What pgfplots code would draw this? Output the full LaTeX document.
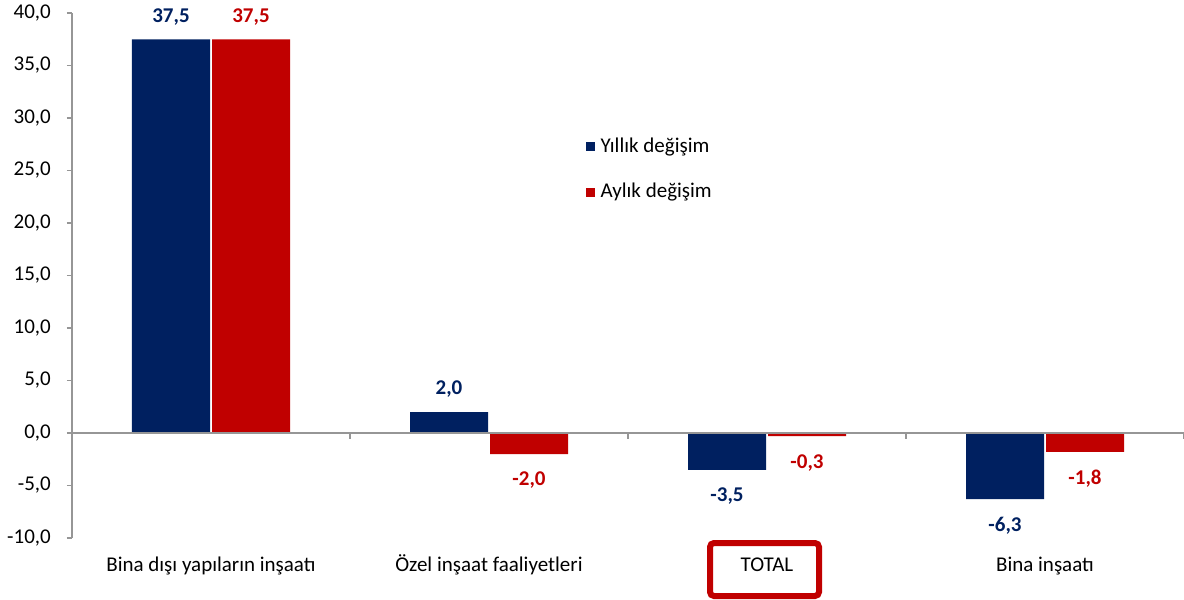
\documentclass[border=0pt]{standalone}
\usepackage{fontspec}
\setmainfont{Carlito}
\usepackage{pgfplots}
\pgfplotsset{compat=1.18}
\definecolor{yblue}{RGB}{0,32,96}
\definecolor{ared}{RGB}{192,0,0}
\definecolor{axgray}{RGB}{150,150,150}
\newcommand{\chartfont}{\fontsize{21}{25}\selectfont}

\begin{document}
\chartfont
\begin{tikzpicture}[font=\chartfont]
  \begin{axis}[
    scale only axis, width=1112pt, height=525pt,
    xmin=-0.5, xmax=3.5, ymin=-10, ymax=40,
    clip=false,
    ytick={-10,-5,...,40},
    xtick={0,1,2,3},
    xticklabels={Bina dışı yapıların inşaatı, Özel inşaat faaliyetleri, TOTAL, Bina inşaatı},
    axis y line*=left, axis x line*=bottom,
    x axis line style={draw=none},
    y axis line style={axgray, line width=1.5pt, -},
    xtick style={draw=none},
    ytick style={axgray, line width=1.2pt},
    tick align=outside, major tick length=5pt,
    tick label style={font=\chartfont},
    yticklabel style={xshift=-9pt},
    xticklabel style={yshift=-6pt, text height=15pt, text depth=5pt},
    /pgf/number format/.cd, fixed, fixed zerofill, precision=1, use comma, assume math mode=true,
    /pgfplots/.cd,
    ybar, bar width=78pt,
    nodes near coords={\pgfmathprintnumber[fixed,fixed zerofill,precision=1,use comma,assume math mode=true]{\pgfplotspointmeta}},
    nodes near coords align={vertical},
    legend style={draw=none, fill=none, at={(0.459,0.771)}, anchor=north west,
      row sep=24pt, column sep=4pt, font=\chartfont},
    legend cell align=left,
    legend image code/.code={\fill[#1] (0pt,-4.5pt) rectangle (9pt,4.5pt);},
  ]
    \addplot[fill=yblue, draw=none, bar shift=-40pt,
      every node near coord/.append style={text=yblue, font=\chartfont\bfseries, inner sep=16pt, yshift=-2pt}]
      coordinates {(0,37.5) (1,2.0) (2,-3.5) (3,-6.3)};
    \addplot[fill=ared, draw=none, bar shift=40pt,
      every node near coord/.append style={text=ared, font=\chartfont\bfseries, inner sep=16pt, yshift=-2pt}]
      coordinates {(0,37.5) (1,-2.0) (2,-0.3) (3,-1.8)};
    \legend{Yıllık değişim, Aylık değişim}
    \draw[axgray, line width=1.5pt] (axis cs:-0.5,0) -- (axis cs:3.5,0);
    \pgfplotsinvokeforeach{0.5,1.5,2.5,3.5}{
      \draw[axgray, line width=1.2pt] (axis cs:#1,0) -- ([yshift=-6pt]axis cs:#1,0);
    }
    \draw[ared, line width=6pt, rounded corners=4pt]
      ([xshift=-57pt,yshift=-5pt]axis cs:2,-10) rectangle ([xshift=52pt,yshift=-58pt]axis cs:2,-10);
  \end{axis}
  \pgfresetboundingbox
  \useasboundingbox (current axis.south west) ++(-72pt,-62pt) rectangle ++(1184pt,600pt);
\end{tikzpicture}
\end{document}
